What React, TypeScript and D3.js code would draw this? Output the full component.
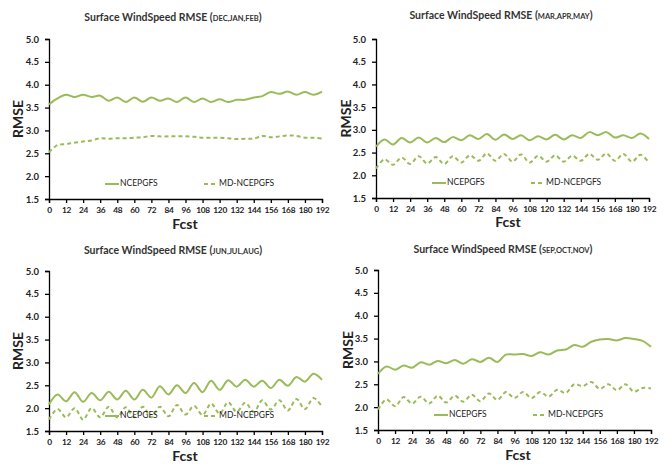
import React, { useEffect, useRef } from 'react';
import * as d3 from 'd3';

// forecast hours (x categories)
const fcstHours = [0, 6, 12, 18, 24, 30, 36, 42, 48, 54, 60, 66, 72, 78, 84, 90, 96, 102, 108, 114, 120, 126, 132, 138, 144, 150, 156, 162, 168, 174, 180, 186, 192];
const xTicks = [0, 12, 24, 36, 48, 60, 72, 84, 96, 108, 120, 132, 144, 156, 168, 180, 192];
const yTicks = [1.5, 2.0, 2.5, 3.0, 3.5, 4.0, 4.5, 5.0];
const seriesNames = ['NCEPGFS', 'MD-NCEPGFS'];

const djfGfs = [3.57, 3.70, 3.78, 3.73, 3.78, 3.73, 3.76, 3.65, 3.72, 3.62, 3.72, 3.63, 3.72, 3.65, 3.70, 3.62, 3.72, 3.62, 3.70, 3.62, 3.68, 3.62, 3.67, 3.67, 3.72, 3.75, 3.84, 3.80, 3.85, 3.78, 3.84, 3.78, 3.85];
const djfMd = [2.52, 2.68, 2.70, 2.73, 2.76, 2.78, 2.83, 2.82, 2.83, 2.83, 2.84, 2.85, 2.88, 2.87, 2.87, 2.87, 2.87, 2.86, 2.84, 2.84, 2.84, 2.83, 2.81, 2.82, 2.82, 2.88, 2.85, 2.87, 2.89, 2.88, 2.84, 2.84, 2.82];

const mamGfs = [2.63, 2.79, 2.68, 2.82, 2.72, 2.83, 2.72, 2.82, 2.73, 2.84, 2.77, 2.88, 2.80, 2.91, 2.78, 2.90, 2.80, 2.88, 2.77, 2.86, 2.79, 2.89, 2.79, 2.88, 2.82, 2.95, 2.88, 2.95, 2.83, 2.88, 2.82, 2.92, 2.80];
const mamMd = [2.15, 2.35, 2.23, 2.39, 2.25, 2.42, 2.26, 2.40, 2.25, 2.42, 2.28, 2.44, 2.32, 2.48, 2.32, 2.47, 2.30, 2.46, 2.28, 2.43, 2.30, 2.44, 2.30, 2.43, 2.32, 2.47, 2.34, 2.48, 2.32, 2.47, 2.30, 2.45, 2.28];

const jjaGfs = [2.08, 2.30, 2.15, 2.35, 2.14, 2.33, 2.17, 2.36, 2.19, 2.38, 2.19, 2.40, 2.23, 2.48, 2.30, 2.50, 2.33, 2.55, 2.35, 2.60, 2.40, 2.61, 2.47, 2.62, 2.47, 2.60, 2.44, 2.62, 2.49, 2.68, 2.58, 2.75, 2.62];
const jjaMd = [1.75, 1.98, 1.80, 2.00, 1.75, 2.00, 1.80, 2.03, 1.80, 2.02, 1.80, 2.03, 1.80, 2.03, 1.82, 2.07, 1.86, 2.05, 1.85, 2.10, 1.88, 2.13, 1.92, 2.12, 1.92, 2.17, 1.97, 2.17, 1.95, 2.20, 1.98, 2.22, 2.03];

const sonGfs = [2.73, 2.89, 2.82, 2.91, 2.86, 2.98, 2.93, 3.01, 2.96, 3.03, 2.95, 3.05, 2.99, 3.08, 2.99, 3.15, 3.15, 3.16, 3.12, 3.20, 3.15, 3.24, 3.26, 3.36, 3.32, 3.43, 3.48, 3.49, 3.46, 3.51, 3.49, 3.45, 3.32];
const sonMd = [1.95, 2.17, 2.02, 2.22, 2.08, 2.23, 2.08, 2.25, 2.10, 2.25, 2.12, 2.27, 2.13, 2.30, 2.16, 2.33, 2.20, 2.33, 2.20, 2.33, 2.23, 2.38, 2.31, 2.50, 2.46, 2.55, 2.40, 2.50, 2.37, 2.50, 2.34, 2.42, 2.41];

const seasons = ['DEC,JAN,FEB', 'MAR,APR,MAY', 'JUN,JUL,AUG', 'SEP,OCT,NOV'];

const GREEN = '#9bbb59';
const FONT = 'Lato, "Open Sans", sans-serif';

// plot frames: x0, x1, yTop, yBottom
const frames = [
  { x0: 49, x1: 322, y0: 39, y1: 199, titleX: 173, titleY: 21, rmseX: 19, fcstX: 185, fcstY: 229 },
  { x0: 376, x1: 649, y0: 39, y1: 198, titleX: 501, titleY: 19, rmseX: 347, fcstX: 508, fcstY: 227 },
  { x0: 49, x1: 322, y0: 271, y1: 431, titleX: 173, titleY: 254, rmseX: 19, fcstX: 185, fcstY: 461 },
  { x0: 378, x1: 651, y0: 270, y1: 430, titleX: 503, titleY: 253, rmseX: 349, fcstX: 518, fcstY: 460 },
];

const App: React.FC = () => {
  const svgRef = useRef<SVGSVGElement>(null);

  useEffect(() => {
    if (!svgRef.current) return;
    const svg = d3.select(svgRef.current);
    svg.selectAll('*').remove();

    const allSeries = [[djfGfs, djfMd], [mamGfs, mamMd], [jjaGfs, jjaMd], [sonGfs, sonMd]];

    frames.forEach((f, i) => {
      const g = svg.append('g');
      const x = d3.scaleLinear().domain([0, 192]).range([f.x0, f.x1]);
      const y = d3.scaleLinear().domain([1.5, 5.0]).range([f.y1, f.y0]);

      // title
      const title = g.append('text')
        .attr('x', f.titleX)
        .attr('y', f.titleY)
        .attr('text-anchor', 'middle')
        .attr('font-family', FONT)
        .attr('font-weight', 'bold')
        .attr('font-size', 10.5)
        .attr('fill', '#333');
      title.append('tspan').text('Surface WindSpeed RMSE (');
      title.append('tspan').attr('font-size', 7.5).text(seasons[i]);
      title.append('tspan').text(')');

      // y axis
      const yAxis = g.append('g')
        .attr('transform', `translate(${f.x0},0)`)
        .call(d3.axisLeft(y).tickValues(yTicks).tickFormat(d3.format('.1f')).tickSize(4).tickPadding(6));
      yAxis.selectAll('path, line').attr('stroke', '#000').attr('stroke-width', 1.3);
      yAxis.selectAll('text')
        .attr('font-family', FONT).attr('font-weight', 'bold').attr('font-size', 9.5).attr('fill', '#222');

      // x axis
      const xAxis = g.append('g')
        .attr('transform', `translate(0,${f.y1})`)
        .call(d3.axisBottom(x).tickValues(xTicks).tickSize(4).tickPadding(4));
      xAxis.selectAll('path, line').attr('stroke', '#000').attr('stroke-width', 1.3);
      xAxis.selectAll('text')
        .attr('font-family', FONT).attr('font-weight', 'bold').attr('font-size', 8.3)
        .attr('letter-spacing', -0.3).attr('fill', '#222');

      // axis titles
      g.append('text')
        .attr('transform', `translate(${f.rmseX},${(f.y0 + f.y1) / 2}) rotate(-90)`)
        .attr('text-anchor', 'middle')
        .attr('dominant-baseline', 'middle')
        .attr('font-family', FONT).attr('font-weight', 'bold').attr('font-size', 14).attr('fill', '#222')
        .text('RMSE');
      g.append('text')
        .attr('x', f.fcstX)
        .attr('y', f.fcstY)
        .attr('text-anchor', 'middle')
        .attr('font-family', FONT).attr('font-weight', 'bold').attr('font-size', 14).attr('fill', '#222')
        .text('Fcst');

      // lines
      const line = d3.line<number>()
        .x((_, j) => x(fcstHours[j]))
        .y(d => y(d))
        .curve(d3.curveCatmullRom.alpha(0.5));

      allSeries[i].forEach((vals, k) => {
        g.append('path')
          .datum(vals)
          .attr('d', line)
          .attr('fill', 'none')
          .attr('stroke', GREEN)
          .attr('stroke-width', 2)
          .attr('stroke-dasharray', k === 1 ? '4,3' : null);
      });

      // legend
      const ly = f.y1 - 15;
      seriesNames.forEach((name, k) => {
        const lx = f.x0 + (k === 0 ? 56 : 155);
        g.append('line')
          .attr('x1', lx).attr('x2', lx + 14)
          .attr('y1', ly).attr('y2', ly)
          .attr('stroke', GREEN)
          .attr('stroke-width', 2)
          .attr('stroke-dasharray', k === 1 ? '4,3' : null);
        g.append('text')
          .attr('x', lx + 15)
          .attr('y', ly)
          .attr('dominant-baseline', 'middle')
          .attr('font-family', FONT).attr('font-size', 8.5).attr('fill', '#222')
          .text(name);
      });
    });
  }, []);

  return (
    <svg
      ref={svgRef}
      width={670}
      height={464}
      style={{ position: 'absolute', left: 0, top: 0, background: '#fff' }}
    />
  );
};

export default App;
